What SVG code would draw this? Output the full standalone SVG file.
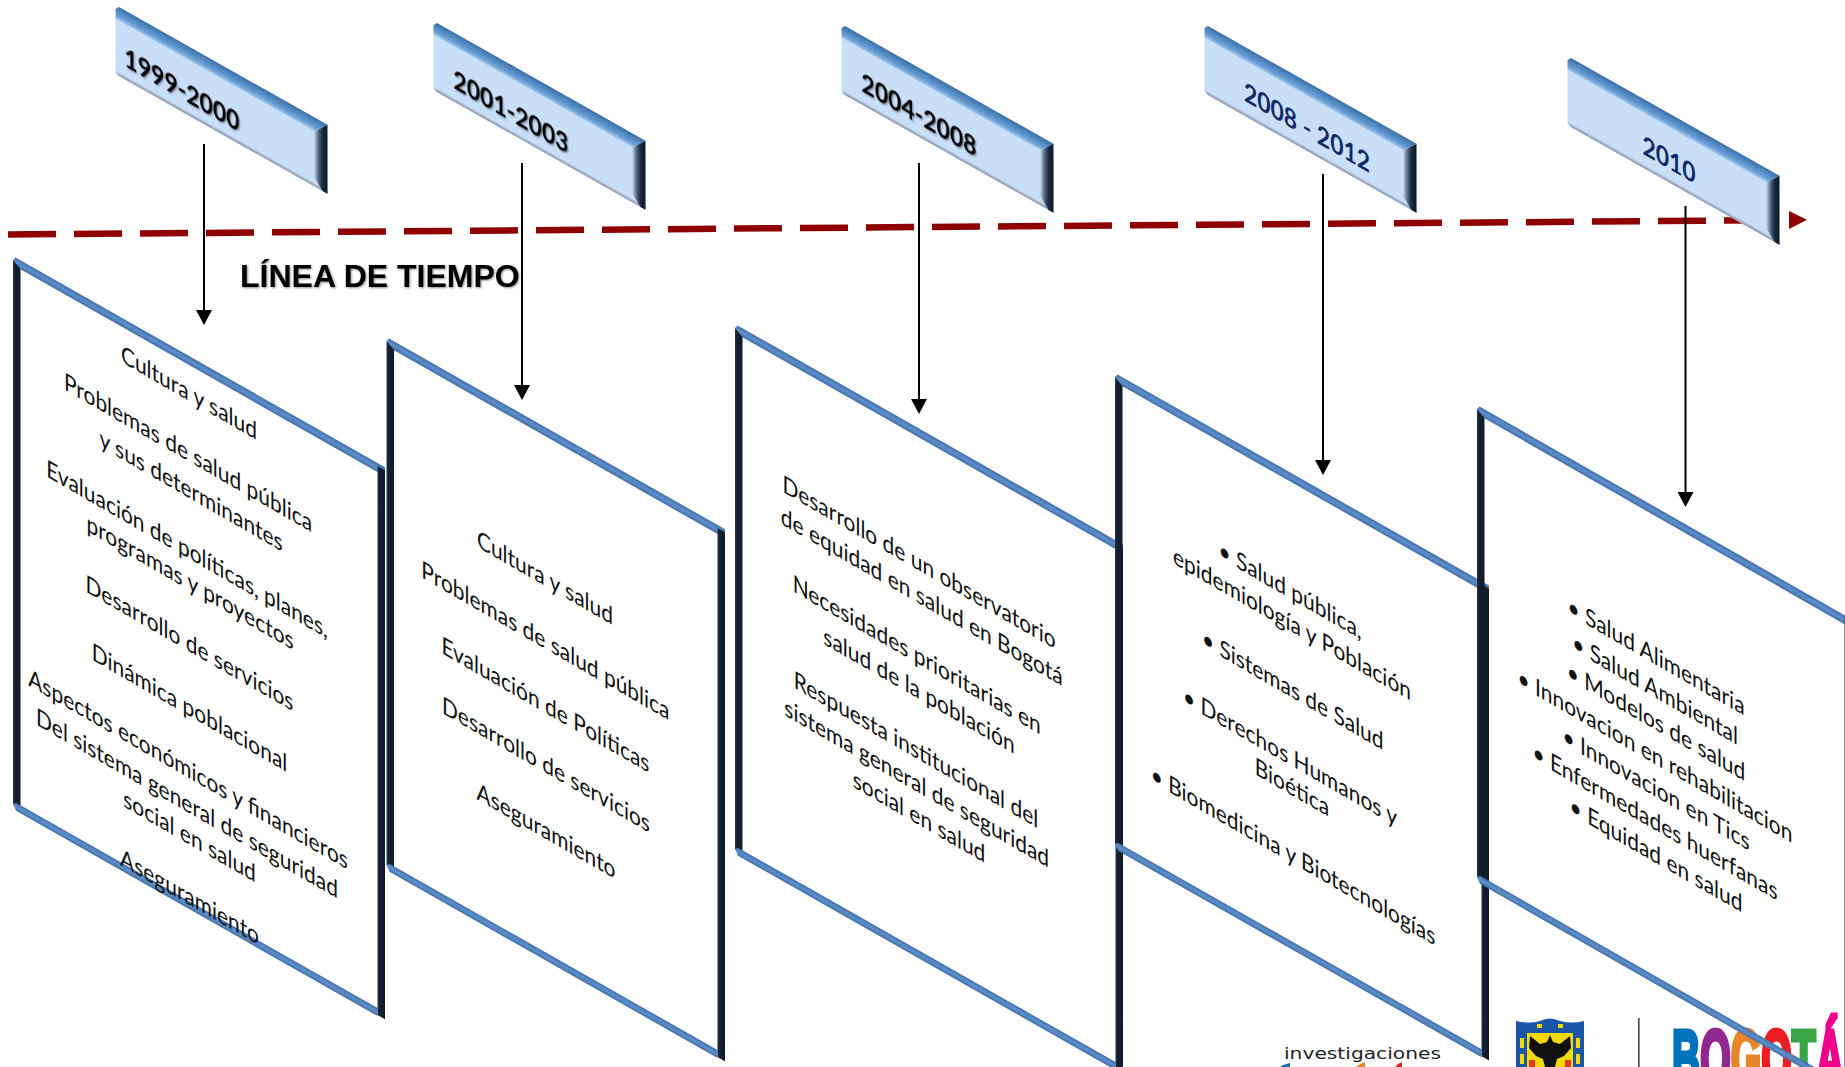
<svg xmlns="http://www.w3.org/2000/svg" xmlns:xlink="http://www.w3.org/1999/xlink" width="1845" height="1067" viewBox="0 0 1845 1067">
<style>
text{font-family:"Lato","Open Sans","Liberation Sans",sans-serif}
.t{font-size:24.2px;fill:#111;text-anchor:middle}
.y{font-size:26.500px;font-weight:700;text-anchor:middle;fill:#000;filter:url(#soft)}
.n{fill:#0f2a66;filter:none}
.s{fill:url(#gStrip)}
.b{fill:url(#gBar)}
</style>
<defs>
<linearGradient id="gStrip" x1="0" y1="0" x2="0" y2="1"><stop offset="0" stop-color="#416fa8"/><stop offset=".5" stop-color="#5f90cb"/><stop offset="1" stop-color="#416fa8"/></linearGradient>
<linearGradient id="gBar" x1="0" y1="0" x2="1" y2="0"><stop offset="0" stop-color="#24364d"/><stop offset=".3" stop-color="#13202f"/><stop offset="1" stop-color="#101c2a"/></linearGradient>
<linearGradient id="gTop" x1="0" y1="0" x2="0" y2="1"><stop offset="0" stop-color="#3a6fa8"/><stop offset=".7" stop-color="#6a9fd6"/><stop offset="1" stop-color="#a9cff3"/></linearGradient>
<linearGradient id="gSide" x1="0" y1="0" x2="1" y2="0"><stop offset="0" stop-color="#b7c9e0"/><stop offset=".35" stop-color="#4a5f78"/><stop offset=".65" stop-color="#16263a"/><stop offset="1" stop-color="#0e1a28"/></linearGradient>
<linearGradient id="gLow" x1="0" y1="0" x2="0" y2="1"><stop offset="0" stop-color="#c9dff8"/><stop offset="1" stop-color="#8592a8"/></linearGradient>
<filter id="soft" x="-10%" y="-20%" width="120%" height="150%"><feDropShadow dx="1" dy="1" stdDeviation="1" flood-color="#000" flood-opacity=".45"/></filter>
<marker id="head" markerUnits="userSpaceOnUse" markerWidth="16" markerHeight="16" viewBox="0 0 15 16" refX="0" refY="8" orient="auto"><path d="M0 0L15 8L0 16Z" fill="#000"/></marker>
<marker id="redHead" markerUnits="userSpaceOnUse" markerWidth="18" markerHeight="18" viewBox="0 0 18 18" refX="0" refY="9" orient="auto"><path d="M0 0L18 9L0 18Z" fill="#8f0000"/></marker>
<g id="banner">
<rect x="0" y="14" width="212" height="55" fill="#c9dff8"/>
<path d="M0 65H212V69H3Z" fill="url(#gLow)"/>
<path d="M0 14V4L3.500 0H212L199 14Z" fill="url(#gTop)"/>
<path d="M199 14L212 0V69L207 69L199 60Z" fill="url(#gSide)"/>
</g>
</defs>
<rect width="1845" height="1067" fill="#fff"/>

<g id="logos">
<text x="1284" y="1059" font-size="16" textLength="157" lengthAdjust="spacingAndGlyphs" fill="#222" style="font-family:'DejaVu Sans',sans-serif">investigaciones</text>
<path d="M1280 1067L1283 1065L1290 1063V1067Z" fill="#1f6fb2"/>
<path d="M1356 1067L1360 1064L1365 1062V1067Z" fill="#e08a2a"/>
<path d="M1395 1067L1398 1064L1402 1062V1067Z" fill="#d6262e"/>
<path d="M1516 1021Q1530 1024 1540 1021Q1550 1016 1560 1021Q1572 1024 1584 1021V1067H1516Z" fill="#1b56a6"/>
<rect x="1527" y="1033" width="46" height="34" fill="#f4d80a"/>
<path d="M1550 1035L1553 1042L1560 1044L1570 1036L1571 1048L1564 1056L1557 1059L1555 1067H1545L1543 1059L1536 1056L1529 1048L1530 1036L1540 1044L1547 1042Z" fill="#111"/>
<path d="M1529 1060h6v7h-6zM1565 1060h6v7h-6z" fill="#e2382a"/>
<path d="M1537 1024h5v4h-5zM1558 1024h5v4h-5zM1520 1038h4v10h-4zM1576 1038h4v10h-4zM1520 1054h4v10h-4zM1576 1054h4v10h-4z" fill="#f4d80a"/>
<rect x="1638" y="1018" width="1.600" height="49" fill="#444"/>
<text transform="translate(1672 1086) scale(.49 1)" font-size="80" font-weight="700" style="font-family:'Liberation Sans',sans-serif" stroke-width="5"><tspan fill="#0072bc" stroke="#0072bc">B</tspan><tspan fill="#92278f" stroke="#92278f">O</tspan><tspan fill="#e6852b" stroke="#e6852b">G</tspan><tspan fill="#ed1c24" stroke="#ed1c24">O</tspan><tspan fill="#3aa648" stroke="#3aa648">T</tspan><tspan fill="#ec008c" stroke="#ec008c">Á</tspan></text>
</g>

<g id="connectors" fill="none">
<line x1="8" y1="234.500" x2="1789" y2="220" stroke="#8f0000" stroke-width="6.500" stroke-dasharray="48 18" marker-end="url(#redHead)"/>
<g stroke="#000" stroke-width="2" marker-end="url(#head)">
<line x1="204" y1="144" x2="204" y2="310"/>
<line x1="522" y1="163" x2="522" y2="385"/>
<line x1="919" y1="163" x2="919" y2="399"/>
<line x1="1323" y1="174" x2="1323" y2="460"/>
<line x1="1685.500" y1="206" x2="1685.500" y2="492"/>
</g>
</g>

<g id="banner-1"><use href="#banner" xlink:href="#banner" transform="matrix(1 .565 0 1 115.500 5)"/><text class="y" transform="matrix(.866 .5 0 1 182 90)" y="9">1999-2000</text></g>
<g id="banner-2"><use href="#banner" xlink:href="#banner" transform="matrix(1 .565 0 1 433.500 21)"/><text class="y" transform="matrix(.866 .5 0 1 511 112)" y="9">2001-2003</text></g>
<g id="banner-3"><use href="#banner" xlink:href="#banner" transform="matrix(1 .565 0 1 841.500 24)"/><text class="y" transform="matrix(.866 .5 0 1 919 115)" y="9">2004-2008</text></g>
<g id="banner-4"><use href="#banner" xlink:href="#banner" transform="matrix(1 .565 0 1 1204.500 24)"/><text class="y n" transform="matrix(.866 .5 0 1 1307 128)" y="9">2008 - 2012</text></g>
<g id="banner-5"><use href="#banner" xlink:href="#banner" transform="matrix(1 .565 0 1 1567.500 56)"/><text class="y n" transform="matrix(.866 .5 0 1 1669 160)" y="9">2010</text></g>

<g id="title"><text x="240" y="287" font-size="32" font-weight="700" fill="#000" filter="url(#soft)" style="font-family:'Liberation Sans',sans-serif">LÍNEA DE TIEMPO</text></g>

<g id="panel-1">
<g transform="matrix(1 .568 0 1 13 256)">
<rect class="b" x="0" y="4" width="7.500" height="544"/>
<path class="s" d="M0 4L2.500 0H372V3L364.500 9H7.500Z"/>
<path class="s" d="M0 548L3 545H364.500V553H3Z"/>
<rect class="b" x="364.500" y="3" width="7.500" height="549"/>
</g>
<text class="t" transform="matrix(.866 .5 0 1 189 393)" y="8">Cultura y salud</text>
<text class="t" transform="matrix(.866 .5 0 1 188 453)" y="8">Problemas de salud pública</text>
<text class="t" transform="matrix(.866 .5 0 1 191 491)" y="8">y sus determinantes</text>
<text class="t" transform="matrix(.866 .5 0 1 187 549.500)" y="8">Evaluación de políticas, planes,</text>
<text class="t" transform="matrix(.866 .5 0 1 190 582.500)" y="8">programas y proyectos</text>
<text class="t" transform="matrix(.866 .5 0 1 189.500 643.600)" y="8">Desarrollo de servicios</text>
<text class="t" transform="matrix(.866 .5 0 1 189.500 708)" y="8">Dinámica poblacional</text>
<text class="t" transform="matrix(.866 .5 0 1 188 769.500)" y="8">Aspectos económicos y financieros</text>
<text class="t" transform="matrix(.866 .5 0 1 187 803.700)" y="8">Del sistema general de seguridad</text>
<text class="t" transform="matrix(.866 .5 0 1 189.500 836.600)" y="8">social en salud</text>
<text class="t" transform="matrix(.866 .5 0 1 189.500 897)" y="8">Aseguramiento</text>
</g>

<g id="panel-2">
<g transform="matrix(1 .568 0 1 386.500 337)">
<rect class="b" x="0" y="4" width="7.500" height="524"/>
<path class="s" d="M0 4L2.500 0H338.500V3L331 9H7.500Z"/>
<path class="s" d="M0 528L3 525H331V533H3Z"/>
<rect class="b" x="331" y="3" width="7.500" height="529"/>
</g>
<text class="t" transform="matrix(.866 .5 0 1 545 578)" y="8">Cultura y salud</text>
<text class="t" transform="matrix(.866 .5 0 1 545.400 641)" y="8">Problemas de salud pública</text>
<text class="t" transform="matrix(.866 .5 0 1 545.400 705)" y="8">Evaluación de Políticas</text>
<text class="t" transform="matrix(.866 .5 0 1 546 765)" y="8">Desarrollo de servicios</text>
<text class="t" transform="matrix(.866 .5 0 1 546 831)" y="8">Aseguramiento</text>
</g>

<g id="panel-3">
<g transform="matrix(1 .568 0 1 735 324)">
<rect class="b" x="0" y="4" width="7.500" height="521"/>
<path class="s" d="M0 4L2.500 0H388V3L380.500 9H7.500Z"/>
<path class="s" d="M0 525L3 522H380.500V530H3Z"/>
<rect class="b" x="380.500" y="3" width="7.500" height="526"/>
</g>
<text class="t" transform="matrix(.866 .5 0 1 919 562.600)" y="8">Desarrollo de un observatorio</text>
<text class="t" transform="matrix(.866 .5 0 1 921.700 597)" y="8">de equidad en salud en Bogotá</text>
<text class="t" transform="matrix(.866 .5 0 1 916.700 655)" y="8">Necesidades prioritarias en</text>
<text class="t" transform="matrix(.866 .5 0 1 919 691)" y="8">salud de la población</text>
<text class="t" transform="matrix(.866 .5 0 1 916 750)" y="8">Respuesta institucional del</text>
<text class="t" transform="matrix(.866 .5 0 1 916.700 783.500)" y="8">sistema general de seguridad</text>
<text class="t" transform="matrix(.866 .5 0 1 919 817)" y="8">social en salud</text>
</g>

<g id="panel-4">
<g transform="matrix(1 .568 0 1 1115 373)">
<rect class="b" x="0" y="4" width="7.500" height="467"/>
<path class="s" d="M0 4L2.500 0H374V3L366.500 9H7.500Z"/>
<path class="s" d="M0 471L3 468H366.500V476H3Z"/>
<rect class="b" x="366.500" y="3" width="7.500" height="472"/>
</g>
<text class="t" transform="matrix(.866 .5 0 1 1290 590.500)" y="8">• Salud pública,</text>
<text class="t" transform="matrix(.866 .5 0 1 1292 624)" y="8">epidemiología y Población</text>
<text class="t" transform="matrix(.866 .5 0 1 1292.700 690)" y="8">• Sistemas de Salud</text>
<text class="t" transform="matrix(.866 .5 0 1 1290 757)" y="8">• Derechos Humanos y</text>
<text class="t" transform="matrix(.866 .5 0 1 1292 787.500)" y="8">Bioética</text>
<text class="t" transform="matrix(.866 .5 0 1 1293 855.600)" y="8">• Biomedicina y Biotecnologías</text>
</g>

<g id="panel-5">
<g transform="matrix(1 .572 0 1 1477 405)">
<rect class="b" x="0" y="4" width="7.500" height="468"/>
<path class="s" d="M0 4L2.500 0H375V3L367.500 9H7.500Z"/>
<path class="s" d="M0 472L3 469H367.500V477H3Z"/>
<rect class="b" x="367.500" y="3" width="7.500" height="473"/>
</g>
<text class="t" transform="matrix(.866 .5 0 1 1656 656.700)" y="8">• Salud Alimentaria</text>
<text class="t" transform="matrix(.866 .5 0 1 1655 689.500)" y="8">• Salud Ambiental</text>
<text class="t" transform="matrix(.866 .5 0 1 1656 722)" y="8">• Modelos de salud</text>
<text class="t" transform="matrix(.866 .5 0 1 1655 756)" y="8">• Innovacion en rehabilitacion</text>
<text class="t" transform="matrix(.866 .5 0 1 1656 789)" y="8">• Innovacion en Tics</text>
<text class="t" transform="matrix(.866 .5 0 1 1655 822)" y="8">• Enfermedades huerfanas</text>
<text class="t" transform="matrix(.866 .5 0 1 1656 855)" y="8">• Equidad en salud</text>
</g>
</svg>
